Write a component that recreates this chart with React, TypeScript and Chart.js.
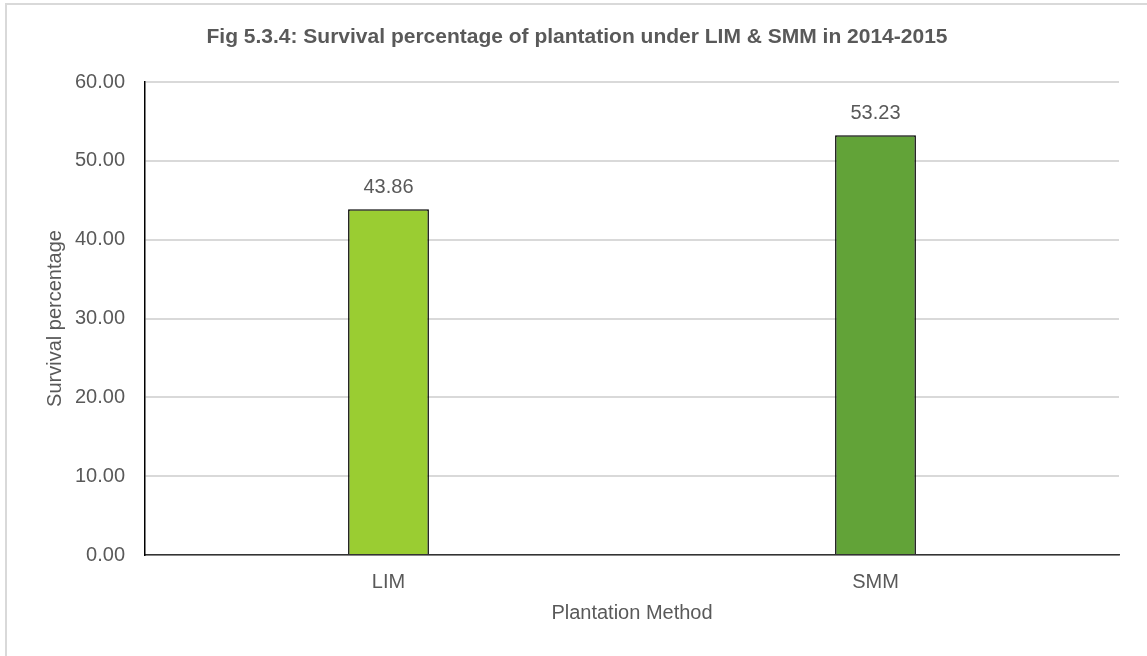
import React, { useEffect, useRef } from "react";
import { Chart, registerables } from "chart.js";

Chart.register(...registerables);

const categories = ["LIM", "SMM"];
const survivalValues = [43.86, 53.23];
const barColors = ["#9ACD32", "#62A338"];
const yTickMax = 60;
const yTickStep = 10;
const titleText = "Fig 5.3.4: Survival percentage of plantation under LIM & SMM in 2014-2015";
const yAxisTitle = "Survival percentage";
const xAxisTitle = "Plantation Method";

const FONT = "'Liberation Sans', Arial, sans-serif";
const TEXT = "#595959";

const framePlugin = {
  id: "frame",
  beforeDraw(chart: any) {
    const ctx = chart.ctx;
    ctx.save();
    ctx.fillStyle = "#ffffff";
    ctx.fillRect(0, 0, chart.width, chart.height);
    ctx.strokeStyle = "#d9d9d9";
    ctx.lineWidth = 2;
    ctx.beginPath();
    ctx.moveTo(6, chart.height);
    ctx.lineTo(6, 4);
    ctx.lineTo(chart.width, 4);
    ctx.stroke();
    ctx.fillStyle = TEXT;
    ctx.font = `bold 21px ${FONT}`;
    ctx.textAlign = "center";
    ctx.textBaseline = "middle";
    ctx.fillText(titleText, 577, 37);
    ctx.restore();
  },
};

const labelPlugin = {
  id: "valueLabels",
  afterDatasetsDraw(chart: any) {
    const ctx = chart.ctx;
    const meta = chart.getDatasetMeta(0);
    ctx.save();
    ctx.fillStyle = TEXT;
    ctx.font = `20px ${FONT}`;
    ctx.textAlign = "center";
    ctx.textBaseline = "middle";
    meta.data.forEach((el: any, i: number) => {
      ctx.fillText(survivalValues[i].toFixed(2), el.x, el.y - 22);
    });
    ctx.restore();
  },
};

export default function App() {
  const ref = useRef<HTMLCanvasElement>(null);
  useEffect(() => {
    const chart = new Chart(ref.current!, {
      type: "bar",
      data: {
        labels: categories,
        datasets: [
          {
            data: survivalValues,
            backgroundColor: barColors,
            borderColor: "#000000",
            borderWidth: 1.5,
            categoryPercentage: 1,
            barPercentage: 0.166,
          },
        ],
      },
      options: {
        responsive: false,
        animation: false,
        layout: { padding: { top: 82, right: 28, left: 0, bottom: 0 } },
        plugins: {
          legend: { display: false },
          tooltip: { enabled: false },
          title: { display: false },
        },
        scales: {
          x: {
            grid: { display: false, drawTicks: false },
            border: { color: "#333333", width: 1.5 },
            ticks: { color: TEXT, font: { family: FONT, size: 20 }, padding: 15 },
            title: {
              display: true,
              text: xAxisTitle,
              color: TEXT,
              font: { family: FONT, size: 20 },
              padding: { top: 0, bottom: 31 },
            },
            afterFit: (s: any) => {
              s.height = 101;
            },
          },
          y: {
            min: 0,
            max: yTickMax,
            grid: { color: "#d9d9d9", lineWidth: 2, drawTicks: false },
            border: { color: "#000000", width: 1.5 },
            ticks: {
              stepSize: yTickStep,
              color: TEXT,
              font: { family: FONT, size: 20 },
              padding: 20,
              callback: (v: any) => Number(v).toFixed(2),
            },
            title: {
              display: true,
              text: yAxisTitle,
              color: TEXT,
              font: { family: FONT, size: 20 },
              padding: { top: 43, bottom: 0 },
            },
            afterFit: (s: any) => {
              s.width = 145;
            },
          },
        },
      },
      plugins: [framePlugin, labelPlugin],
    });
    return () => chart.destroy();
  }, []);
  return (
    <div style={{ position: "fixed", left: 0, top: 0, width: 1147, height: 656 }}>
      <canvas ref={ref} width={1147} height={656} style={{ display: "block" }} />
    </div>
  );
}
